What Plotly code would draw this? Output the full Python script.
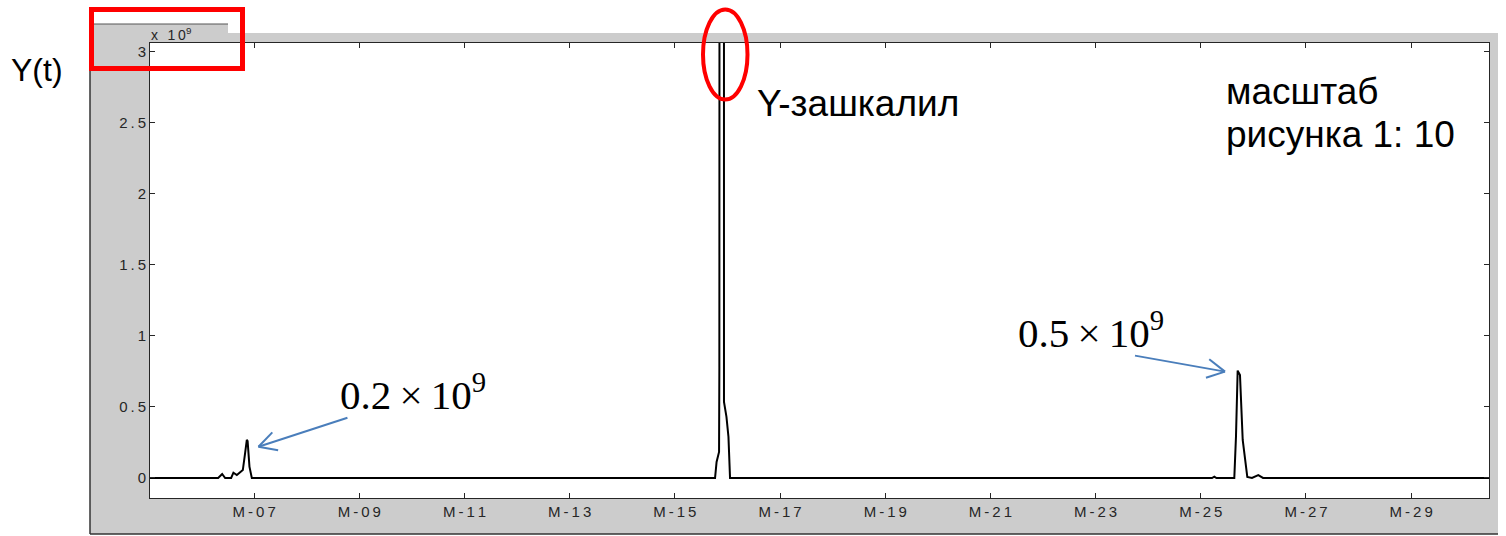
import math
import plotly.graph_objects as go

# Signal Y(t), values in units of 1e9, time in months
t_month = [5.00, 6.316, 6.392, 6.449, 6.563, 6.606, 6.671, 6.785, 6.829, 6.861, 6.876, 6.911, 6.956,
           15.726, 15.764, 15.793, 15.840, 15.846, 15.871, 15.928, 15.934, 15.981, 16.019, 16.049,
           25.213, 25.257, 25.298, 25.637, 25.669, 25.701, 25.745, 25.797, 25.884, 25.973, 26.093, 26.183,
           30.60]
y_e9 = [0.0, 0.0, 0.028, 0.0, 0.0, 0.037, 0.021, 0.056, 0.176, 0.268, 0.260, 0.080, 0.0,
        0.0, 0.0, 0.113, 0.183, 0.782, 30.0, 30.0, 0.535, 0.430, 0.289, 0.0,
        0.0, 0.010, 0.0, 0.0, 0.291, 0.756, 0.725, 0.268, 0.007, 0.0, 0.020, 0.0,
        0.0]

x_ticks = [7, 9, 11, 13, 15, 17, 19, 21, 23, 25, 27, 29]
x_labels = ["M-07", "M-09", "M-11", "M-13", "M-15", "M-17", "M-19", "M-21", "M-23", "M-25", "M-27", "M-29"]
y_ticks = [0, 0.5, 1, 1.5, 2, 2.5, 3]
y_labels = ["0", "0.5", "1", "1.5", "2", "2.5", "3"]

W, H = 1506, 536
ML, MR, MT, MB = 150, 17, 43, 38
PW, PH = W - ML - MR, H - MT - MB


def px(xp):
    return (xp - ML) / PW


def py(yp):
    return (H - MB - yp) / PH


def spaced(s):
    """Widen tick text the way the old printer output does."""
    return "\u2009".join(s)


AX = "#262626"
GRAY = "#CCCCCC"
RED = "#FF0000"
BLUE = "#4A7EBB"

fig = go.Figure()
fig.add_trace(go.Scatter(x=t_month, y=y_e9, mode="lines",
                         line=dict(color="black", width=2), hoverinfo="skip"))

shapes = []
# grey figure frame behind the axes
shapes.append(dict(type="rect", xref="paper", yref="paper", layer="below",
                   x0=px(90), x1=px(1498), y0=py(534), y1=py(33),
                   fillcolor=GRAY, line=dict(width=0)))
shapes.append(dict(type="rect", xref="paper", yref="paper", layer="below",
                   x0=px(90), x1=px(228), y0=py(34), y1=py(24),
                   fillcolor=GRAY, line=dict(width=0)))
shapes.append(dict(type="line", xref="paper", yref="paper", layer="below",
                   x0=px(94), x1=px(228), y0=py(24), y1=py(24),
                   line=dict(color="#555555", width=1)))
shapes.append(dict(type="line", xref="paper", yref="paper", layer="below",
                   x0=px(90), x1=px(90), y0=py(534), y1=py(24),
                   line=dict(color="#333333", width=1.5)))
shapes.append(dict(type="line", xref="paper", yref="paper", layer="below",
                   x0=px(90), x1=px(1498), y0=py(534), y1=py(534),
                   line=dict(color="#333333", width=1.5)))
# white axes background
shapes.append(dict(type="rect", xref="paper", yref="paper", layer="below",
                   x0=0, x1=1, y0=0, y1=1, fillcolor="white", line=dict(width=0)))

# red highlight marks
shapes.append(dict(type="rect", xref="paper", yref="paper",
                   x0=px(91.5), x1=px(242.5), y0=py(68.5), y1=py(9.5),
                   line=dict(color=RED, width=5)))
shapes.append(dict(type="circle", xref="paper", yref="paper",
                   x0=px(703), x1=px(747.5), y0=py(99.5), y1=py(9.5),
                   line=dict(color=RED, width=4)))


def arrow(tip_x, tip_y, dx, dy, head=20, half_angle=28):
    """Open-headed arrow pointing at (tip_x, tip_y); tail offset (dx, dy) in px, y up."""
    common = dict(type="line", xref="x", yref="y", xsizemode="pixel", ysizemode="pixel",
                  xanchor=tip_x, yanchor=tip_y, line=dict(color=BLUE, width=2))
    out = [dict(common, x0=0, y0=0, x1=dx, y1=dy)]
    ang = math.atan2(dy, dx)
    for s in (-1, 1):
        a = ang + s * math.radians(half_angle)
        out.append(dict(common, x0=0, y0=0, x1=head * math.cos(a), y1=head * math.sin(a)))
    return out


shapes += arrow(7.082, 0.220, 89, 29)
shapes += arrow(25.460, 0.749, -90, 16)

SANS = "Liberation Sans, Arial"
SERIF = "Liberation Serif, Times New Roman"
annotations = [
    dict(text="Y(t)", xref="paper", yref="paper", x=px(37), y=py(70), showarrow=False,
         xanchor="center", yanchor="middle", font=dict(family=SANS, size=32, color="black")),
    dict(text="x\u2009 \u20091\u20090<sup>9</sup>", xref="paper", yref="paper", x=px(149), y=py(34),
         showarrow=False, xanchor="left", yanchor="middle", font=dict(family=SANS, size=14, color=AX)),
    dict(text="Y-зашкалил", xref="paper", yref="paper", x=px(755), y=py(104), showarrow=False,
         xanchor="left", yanchor="middle", font=dict(family=SANS, size=37, color="black")),
    dict(text="масштаб", xref="paper", yref="paper", x=px(1224), y=py(92),
         showarrow=False, xanchor="left", yanchor="middle",
         font=dict(family=SANS, size=37, color="black")),
    dict(text="рисунка 1: 10", xref="paper", yref="paper", x=px(1224), y=py(134),
         showarrow=False, xanchor="left", yanchor="middle",
         font=dict(family=SANS, size=37, color="black")),
    dict(text="0.2\u2009\u00d7\u200910<sup>9</sup>", xref="paper", yref="paper", x=px(338), y=py(392),
         showarrow=False, xanchor="left", yanchor="middle", font=dict(family=SERIF, size=41, color="black")),
    dict(text="0.5\u2009\u00d7\u200910<sup>9</sup>", xref="paper", yref="paper", x=px(1016), y=py(330),
         showarrow=False, xanchor="left", yanchor="middle", font=dict(family=SERIF, size=41, color="black")),
]

axis_common = dict(showline=True, linecolor=AX, linewidth=1, mirror="allticks", ticks="inside",
                   ticklen=5, tickcolor=AX, tickwidth=1, showgrid=False, zeroline=False,
                   tickfont=dict(family=SANS, size=15, color=AX))

fig.update_layout(
    width=W, height=H,
    margin=dict(l=ML, r=MR, t=MT, b=MB, pad=0),
    paper_bgcolor="white", plot_bgcolor="white",
    showlegend=False,
    xaxis=dict(axis_common, range=[5.02, 30.48], tickmode="array", tickvals=x_ticks,
               ticktext=[spaced(s) for s in x_labels]),
    yaxis=dict(axis_common, range=[-0.141, 3.063], tickmode="array", tickvals=y_ticks,
               ticktext=[spaced(s) for s in y_labels]),
    shapes=shapes,
    annotations=annotations,
)

fig.write_html("out.html")
